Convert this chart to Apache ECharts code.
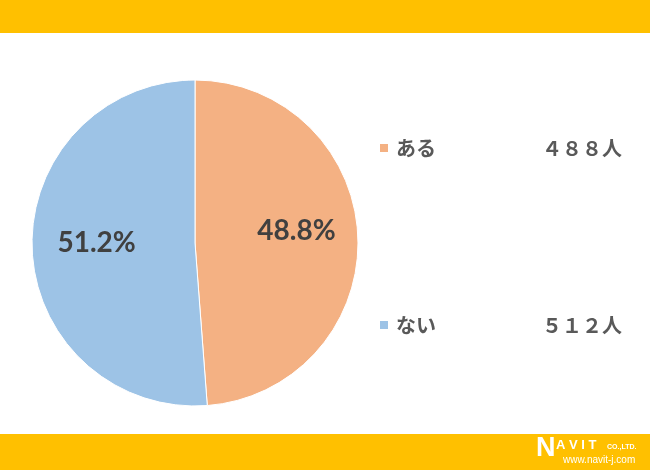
<!DOCTYPE html>
<html><head><meta charset="utf-8">
<script src="https://cdn.jsdelivr.net/npm/echarts@6/dist/echarts.min.js"></script>
<style>html,body{margin:0;padding:0;background:#fff}#c{width:650px;height:470px}</style>
</head><body><div id="c"></div>
<script>
const categories = ['ある', 'ない'];
const counts = [488, 512];
const percents = [48.8, 51.2];
const colors = ['#F4B183', '#9DC3E6'];

function fullWidth(n) {
  return String(n).replace(/[0-9]/g, d => String.fromCharCode(d.charCodeAt(0) + 0xFEE0));
}

const chart = echarts.init(document.getElementById('c'), null, {renderer: 'canvas'});
const labelShift = [[17, -9], [-14, -3]];
chart.setOption({
  animation: false,
  graphic: [
    {type: 'rect', shape: {x: 0, y: 0, width: 650, height: 33}, style: {fill: '#FFC000'}, silent: true},
    {type: 'rect', shape: {x: 0, y: 434, width: 650, height: 36}, style: {fill: '#FFC000'}, silent: true},
    {type: 'text', left: 536, top: 435, style: {text: 'N', fill: '#fff', font: 'bold 27px "Liberation Sans"'}},
    {type: 'text', left: 556, top: 439, style: {text: 'A V I T', fill: '#fff', font: 'bold 13px "Liberation Sans"'}},
    {type: 'text', left: 607, top: 444, style: {text: 'CO.,LTD.', fill: '#fff', font: 'bold 7px "Liberation Sans"'}},
    {type: 'text', left: 563, top: 455, style: {text: 'www.navit-j.com', fill: '#fff', font: '10px "Liberation Sans"'}}
  ],
  legend: {
    orient: 'vertical',
    left: 373,
    top: 133,
    itemWidth: 10,
    itemHeight: 10,
    itemGap: 157,
    icon: 'rect',
    data: categories,
    formatter: function (name) {
      const i = categories.indexOf(name);
      return '{n|' + name + '}{v|' + fullWidth(counts[i]) + '人}';
    },
    textStyle: {
      rich: {
        n: {width: 146, fontSize: 20, lineHeight: 22, color: '#595959', fontWeight: 'bold', fontFamily: '"Noto Sans CJK JP"', padding: [0, 0, 0, 2]},
        v: {fontSize: 20, lineHeight: 22, color: '#595959', fontWeight: 'bold', fontFamily: '"Noto Sans CJK JP"'}
      }
    }
  },
  series: [{
    type: 'pie',
    center: [195, 243],
    radius: [0, 163],
    startAngle: 90,
    clockwise: true,
    itemStyle: {borderColor: '#fff', borderWidth: 1},
    label: {
      show: true,
      position: 'inside',
      formatter: p => percents[p.dataIndex].toFixed(1) + '%',
      fontSize: 28,
      fontWeight: 'bold',
      fontFamily: 'Lato',
      color: '#404040'
    },
    labelLayout: function (p) {
      return {dx: labelShift[p.dataIndex][0], dy: labelShift[p.dataIndex][1]};
    },
    emphasis: {disabled: true},
    data: categories.map((c, i) => ({name: c, value: counts[i], itemStyle: {color: colors[i]}}))
  }]
});
</script></body></html>
